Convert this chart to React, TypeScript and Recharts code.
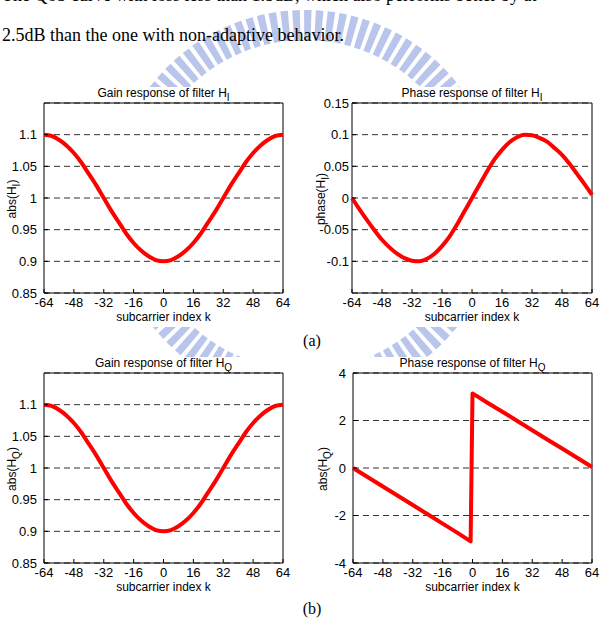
import React from "react";
import { LineChart, Line, XAxis, YAxis, CartesianGrid, ReferenceArea } from "recharts";

// subcarrier index, step 4
const kFine = [
  -64, -60, -56, -52, -48, -44, -40, -36, -32, -28, -24, -20, -16, -12, -8, -4,
  0, 4, 8, 12, 16, 20, 24, 28, 32, 36, 40, 44, 48, 52, 56, 60, 64,
];
const gainI = [
  1.1, 1.098, 1.092, 1.083, 1.071, 1.056, 1.038, 1.02, 1.0, 0.98, 0.962, 0.944, 0.929, 0.917, 0.908, 0.902,
  0.9, 0.902, 0.908, 0.917, 0.929, 0.944, 0.962, 0.98, 1.0, 1.02, 1.038, 1.056, 1.071, 1.083, 1.092, 1.098, 1.1,
];
const gainQ = [
  1.1, 1.098, 1.092, 1.083, 1.071, 1.056, 1.038, 1.02, 1.0, 0.98, 0.962, 0.944, 0.929, 0.917, 0.908, 0.902,
  0.9, 0.902, 0.908, 0.917, 0.929, 0.944, 0.962, 0.98, 1.0, 1.02, 1.038, 1.056, 1.071, 1.083, 1.092, 1.098, 1.1,
];
const phaseI = [
  0, -0.018, -0.035, -0.051, -0.066, -0.078, -0.088, -0.095, -0.099, -0.1, -0.096, -0.088, -0.076, -0.061, -0.042, -0.021,
  0, 0.021, 0.042, 0.061, 0.076, 0.088, 0.096, 0.1, 0.099, 0.095, 0.089, 0.079, 0.068, 0.054, 0.038, 0.022, 0.005,
];
const kPhaseQ = [-64, -56, -48, -40, -32, -24, -16, -8, -1, 0, 8, 16, 24, 32, 40, 48, 56, 64];
const phaseQ = [0, -0.39, -0.78, -1.17, -1.56, -1.95, -2.34, -2.73, -3.09, 3.14, 2.75, 2.37, 1.98, 1.59, 1.2, 0.82, 0.43, 0.04];

const xTicks = [-64, -48, -32, -16, 0, 16, 32, 48, 64];
const gainTicks = [0.85, 0.9, 0.95, 1, 1.05, 1.1];
const phaseITicks = [-0.1, -0.05, 0, 0.05, 0.1, 0.15];
const phaseQTicks = [-4, -2, 0, 2, 4];

const toRows = (ks: number[], vs: number[]) => ks.map((k, i) => ({ k, v: vs[i] }));

const Sub = ({ children }: { children: React.ReactNode }) => (
  <span style={{ fontSize: 10, position: "relative", top: 4 }}>{children}</span>
);

type PanelProps = {
  left: number;
  top: number;
  width: number;
  yWidth: number;
  yGap: number;
  data: { k: number; v: number }[];
  yDomain: [number, number];
  yTicks: number[];
  curve: "monotone" | "linear";
  title: React.ReactNode;
  yLabel: React.ReactNode;
  yLabelX: number;
};

function Panel({ left, top, width, yWidth, yGap, data, yDomain, yTicks, curve, title, yLabel, yLabelX }: PanelProps) {
  const m = { top: 16, right: width === 300 ? 17 : 10, bottom: 6, left: 4 };
  const plotL = m.left + yWidth;
  const plotW = width - plotL - m.right;
  return (
    <div style={{ position: "absolute", left, top, width, height: 240, background: "#fff" }}>
      <LineChart width={width} height={240} data={data} margin={m}>
        <CartesianGrid vertical={false} stroke="#333" strokeDasharray="6 4" />
        <XAxis
          dataKey="k" type="number" domain={[-64, 64]} ticks={xTicks} interval={0}
          axisLine={false} tickLine={{ stroke: "#000" }} tickSize={-4} tickMargin={9} height={28}
          tick={{ fontSize: 13, fill: "#000" }}
        />
        <YAxis
          type="number" domain={yDomain} ticks={yTicks} interval={0} width={yWidth}
          axisLine={false} tickLine={{ stroke: "#000" }} tickSize={-4} tickMargin={4 + yGap}
          tick={{ fontSize: 13, fill: "#000" }}
        />
        <ReferenceArea x1={-64} x2={64} y1={yDomain[0]} y2={yDomain[1]} fill="none" stroke="#000" strokeWidth={1} fillOpacity={0} />
        <Line type={curve} dataKey="v" stroke="#ff0000" strokeWidth={4} dot={false} isAnimationActive={false} strokeLinejoin="round" />
      </LineChart>
      {/* title */}
      <div style={{ position: "absolute", left: plotL, width: plotW, top: -1, textAlign: "center", fontSize: 12, lineHeight: "14px", whiteSpace: "nowrap" }}>
        {title}
      </div>
      {/* x label */}
      <div style={{ position: "absolute", left: plotL, width: plotW, top: 223, textAlign: "center", fontSize: 12, lineHeight: "14px" }}>
        subcarrier index k
      </div>
      {/* y label */}
      <div
        style={{
          position: "absolute", left: yLabelX, top: 112, fontSize: 12, lineHeight: "14px", whiteSpace: "nowrap",
          transform: "translate(-50%, -50%) rotate(-90deg)",
        }}
      >
        {yLabel}
      </div>
    </div>
  );
}

const serif = "'Liberation Serif', 'Times New Roman', serif";

export default function App() {
  return (
    <div
      style={{
        position: "absolute", left: 0, top: 0, width: 602, height: 622, overflow: "hidden",
        background: "#fff", fontFamily: "'Liberation Sans', Arial, sans-serif", color: "#000",
      }}
    >
      {/* watermark */}
      <svg width={602} height={622} style={{ position: "absolute", left: 0, top: 0 }}>
        <circle cx={305} cy={205} r={180} fill="none" stroke="#a3b1e6" strokeWidth={30} strokeDasharray="7 4" opacity={0.75} />
      </svg>

      <div style={{ position: "absolute", left: 2, top: -15, width: 600, fontFamily: serif, fontSize: 18, lineHeight: "20px", whiteSpace: "nowrap" }}>
        The QoS curve with loss less than 1.5dB, which also performs better by at
      </div>
      <div style={{ position: "absolute", left: 2, top: 25, fontFamily: serif, fontSize: 18, lineHeight: "20px", whiteSpace: "nowrap" }}>
        2.5dB than the one with non-adaptive behavior.
      </div>

      <Panel
        left={0} top={87} width={300} yWidth={40} yGap={7} data={toRows(kFine, gainI)}
        yDomain={[0.85, 1.15]} yTicks={gainTicks} curve="monotone" yLabelX={12}
        title={<>Gain response of filter H<Sub>I</Sub></>}
        yLabel={<>abs(H<Sub>I</Sub>)</>}
      />
      <Panel
        left={300} top={87} width={302} yWidth={48} yGap={3} data={toRows(kFine, phaseI)}
        yDomain={[-0.15, 0.15]} yTicks={phaseITicks} curve="monotone" yLabelX={21}
        title={<>Phase response of filter H<Sub>I</Sub></>}
        yLabel={<>phase(H<Sub>I</Sub>)</>}
      />
      <Panel
        left={0} top={357} width={300} yWidth={40} yGap={7} data={toRows(kFine, gainQ)}
        yDomain={[0.85, 1.15]} yTicks={gainTicks} curve="monotone" yLabelX={12}
        title={<>Gain response of filter H<Sub>Q</Sub></>}
        yLabel={<>abs(H<Sub>Q</Sub>)</>}
      />
      <Panel
        left={300} top={357} width={302} yWidth={49} yGap={7} data={toRows(kPhaseQ, phaseQ)}
        yDomain={[-4, 4]} yTicks={phaseQTicks} curve="linear" yLabelX={23}
        title={<>Phase response of filter H<Sub>Q</Sub></>}
        yLabel={<>abs(H<Sub>Q</Sub>)</>}
      />

      <div style={{ position: "absolute", left: 296, top: 332, width: 32, textAlign: "center", fontFamily: serif, fontSize: 16, lineHeight: "18px" }}>
        (a)
      </div>
      <div style={{ position: "absolute", left: 296, top: 600, width: 32, textAlign: "center", fontFamily: serif, fontSize: 16, lineHeight: "18px" }}>
        (b)
      </div>
    </div>
  );
}
